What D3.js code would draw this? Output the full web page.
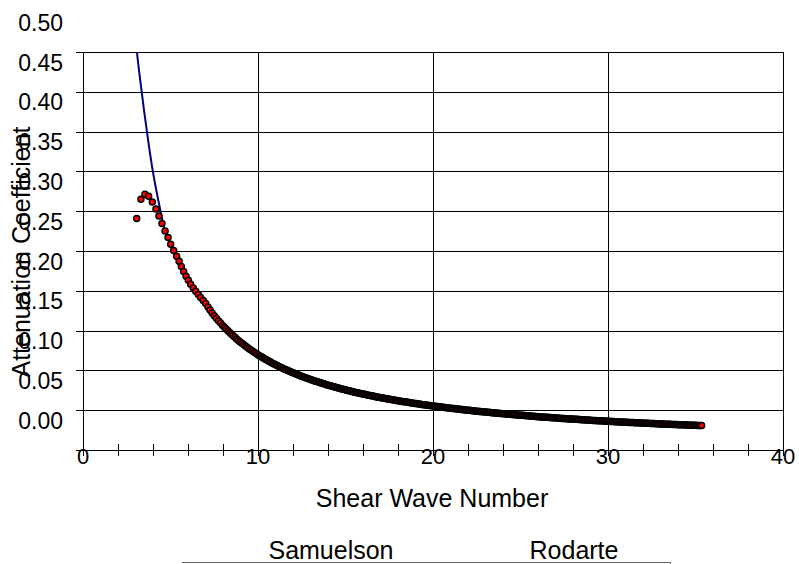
<!DOCTYPE html>
<html>
<head>
<meta charset="utf-8">
<script src="https://cdn.jsdelivr.net/npm/d3@7"></script>
<style>
  html, body { margin: 0; padding: 0; background: #fff; }
  text { font-family: "Liberation Sans", Arial, sans-serif; fill: #000; }
</style>
</head>
<body>
<div id="chart"></div>
<script>
// attenuation coefficient vs shear wave number, two models

const xTicks = [0, 10, 20, 30, 40]
const xMinor = [2, 4, 6, 8, 12, 14, 16, 18, 22, 24, 26, 28, 32, 34, 36, 38]
const yGrid = [0.45, 0.40, 0.35, 0.30, 0.25, 0.20, 0.15, 0.10, 0.05, 0.00]
const yLabels = ["0.50", "0.45", "0.40", "0.35", "0.30", "0.25", "0.20", "0.15", "0.10", "0.05", "0.00"]
const seriesNames = ["Samuelson", "Rodarte"]

// Samuelson (line)
const samuelsonX = [2.9, 3.07, 3.27, 3.5, 3.75, 3.98, 4.34, 4.69, 4.86, 5.01, 5.35, 5.75, 6.3, 7.01, 7.5, 8, 9, 10, 11, 12, 14, 16, 18, 20, 22, 24, 26, 28, 30, 32, 34, 35.35]
const samuelsonY = [0.50, 0.453, 0.4146, 0.3745, 0.3345, 0.3015, 0.2596, 0.2252, 0.2165, 0.2080, 0.1930, 0.1740, 0.1533, 0.1338, 0.1185, 0.1060, 0.0854, 0.0696, 0.0571, 0.0470, 0.0315, 0.0203, 0.0119, 0.0053, 0.0000, -0.0044, -0.0081, -0.0112, -0.0139, -0.0162, -0.0182, -0.0193]

// Rodarte (points) - very dense past x=10, they merge into a black band
const rodarteX = [
  3.07, 3.31, 3.54, 3.75, 3.96, 4.17, 4.34, 4.51, 4.69, 4.86, 5.01, 5.18, 5.35, 5.49, 5.62, 5.75, 5.89, 6.02, 6.15, 6.30, 6.44, 6.59, 6.72, 6.87, 7.01, 7.14,
  7.26, 7.38, 7.50, 7.62, 7.74, 7.86, 7.98,
  8.08, 8.18, 8.28, 8.38, 8.48, 8.58, 8.68, 8.78, 8.88, 8.98, 9.08, 9.18, 9.28, 9.38, 9.48, 9.58, 9.68, 9.78, 9.88, 9.98,
  10.08, 10.16, 10.24, 10.32, 10.40, 10.48, 10.56, 10.64, 10.72, 10.80, 10.88, 10.96, 11.04, 11.12, 11.20, 11.28, 11.36, 11.44, 11.52, 11.60, 11.68, 11.76, 11.84, 11.92, 12.00,
  12.08, 12.16, 12.24, 12.32, 12.40, 12.48, 12.56, 12.64, 12.72, 12.80, 12.88, 12.96, 13.04, 13.12, 13.20, 13.28, 13.36, 13.44, 13.52, 13.60, 13.68, 13.76, 13.84, 13.92, 14.00,
  14.08, 14.16, 14.24, 14.32, 14.40, 14.48, 14.56, 14.64, 14.72, 14.80, 14.88, 14.96, 15.04, 15.12, 15.20, 15.28, 15.36, 15.44, 15.52, 15.60, 15.68, 15.76, 15.84, 15.92, 16.00,
  16.08, 16.16, 16.24, 16.32, 16.40, 16.48, 16.56, 16.64, 16.72, 16.80, 16.88, 16.96, 17.04, 17.12, 17.20, 17.28, 17.36, 17.44, 17.52, 17.60, 17.68, 17.76, 17.84, 17.92, 18.00,
  18.08, 18.16, 18.24, 18.32, 18.40, 18.48, 18.56, 18.64, 18.72, 18.80, 18.88, 18.96, 19.04, 19.12, 19.20, 19.28, 19.36, 19.44, 19.52, 19.60, 19.68, 19.76, 19.84, 19.92, 20.00,
  20.08, 20.16, 20.24, 20.32, 20.40, 20.48, 20.56, 20.64, 20.72, 20.80, 20.88, 20.96, 21.04, 21.12, 21.20, 21.28, 21.36, 21.44, 21.52, 21.60, 21.68, 21.76, 21.84, 21.92, 22.00,
  22.08, 22.16, 22.24, 22.32, 22.40, 22.48, 22.56, 22.64, 22.72, 22.80, 22.88, 22.96, 23.04, 23.12, 23.20, 23.28, 23.36, 23.44, 23.52, 23.60, 23.68, 23.76, 23.84, 23.92, 24.00,
  24.08, 24.16, 24.24, 24.32, 24.40, 24.48, 24.56, 24.64, 24.72, 24.80, 24.88, 24.96, 25.04, 25.12, 25.20, 25.28, 25.36, 25.44, 25.52, 25.60, 25.68, 25.76, 25.84, 25.92, 26.00,
  26.08, 26.16, 26.24, 26.32, 26.40, 26.48, 26.56, 26.64, 26.72, 26.80, 26.88, 26.96, 27.04, 27.12, 27.20, 27.28, 27.36, 27.44, 27.52, 27.60, 27.68, 27.76, 27.84, 27.92, 28.00,
  28.08, 28.16, 28.24, 28.32, 28.40, 28.48, 28.56, 28.64, 28.72, 28.80, 28.88, 28.96, 29.04, 29.12, 29.20, 29.28, 29.36, 29.44, 29.52, 29.60, 29.68, 29.76, 29.84, 29.92, 30.00,
  30.08, 30.16, 30.24, 30.32, 30.40, 30.48, 30.56, 30.64, 30.72, 30.80, 30.88, 30.96, 31.04, 31.12, 31.20, 31.28, 31.36, 31.44, 31.52, 31.60, 31.68, 31.76, 31.84, 31.92, 32.00,
  32.08, 32.16, 32.24, 32.32, 32.40, 32.48, 32.56, 32.64, 32.72, 32.80, 32.88, 32.96, 33.04, 33.12, 33.20, 33.28, 33.36, 33.44, 33.52, 33.60, 33.68, 33.76, 33.84, 33.92, 34.00,
  34.08, 34.16, 34.24, 34.32, 34.40, 34.48, 34.56, 34.64, 34.72, 34.80, 34.88, 34.96, 35.04, 35.12, 35.20, 35.28,
  35.35]
const rodarteY = [
  0.2408, 0.2650, 0.2714, 0.2688, 0.2617, 0.2529, 0.2441, 0.2345, 0.2252, 0.2170, 0.2085, 0.2006, 0.1935, 0.1872, 0.1805, 0.1742, 0.1683, 0.1633, 0.1583, 0.1536, 0.1495, 0.1453, 0.1416, 0.1378, 0.1340, 0.1298,
  0.1260, 0.1222, 0.1185, 0.1155, 0.1125, 0.1095, 0.1065,
  0.1042, 0.1020, 0.0998, 0.0976, 0.0954, 0.0935, 0.0916, 0.0896, 0.0877, 0.0858, 0.0841, 0.0824, 0.0807, 0.0790, 0.0773, 0.0758, 0.0743, 0.0729, 0.0714, 0.0699,
  0.0685, 0.0675, 0.0664, 0.0654, 0.0643, 0.0633, 0.0623, 0.0613, 0.0604, 0.0594, 0.0585, 0.0576, 0.0567, 0.0558, 0.0550, 0.0541, 0.0533, 0.0524, 0.0516, 0.0508, 0.0501, 0.0493, 0.0485, 0.0478, 0.0470,
  0.0463, 0.0456, 0.0449, 0.0442, 0.0435, 0.0428, 0.0421, 0.0415, 0.0408, 0.0402, 0.0396, 0.0389, 0.0383, 0.0377, 0.0371, 0.0365, 0.0359, 0.0353, 0.0348, 0.0342, 0.0337, 0.0331, 0.0326, 0.0320, 0.0315,
  0.0310, 0.0305, 0.0300, 0.0295, 0.0290, 0.0285, 0.0281, 0.0276, 0.0271, 0.0267, 0.0262, 0.0257, 0.0253, 0.0249, 0.0244, 0.0240, 0.0236, 0.0231, 0.0227, 0.0223, 0.0219, 0.0215, 0.0211, 0.0207, 0.0203,
  0.0199, 0.0196, 0.0192, 0.0188, 0.0185, 0.0181, 0.0177, 0.0174, 0.0170, 0.0167, 0.0163, 0.0160, 0.0156, 0.0153, 0.0150, 0.0147, 0.0144, 0.0140, 0.0137, 0.0134, 0.0131, 0.0128, 0.0125, 0.0122, 0.0119,
  0.0116, 0.0113, 0.0110, 0.0107, 0.0105, 0.0102, 0.0099, 0.0096, 0.0094, 0.0091, 0.0088, 0.0085, 0.0083, 0.0080, 0.0078, 0.0075, 0.0072, 0.0070, 0.0067, 0.0065, 0.0062, 0.0060, 0.0058, 0.0055, 0.0053,
  0.0051, 0.0049, 0.0046, 0.0044, 0.0042, 0.0040, 0.0037, 0.0035, 0.0033, 0.0031, 0.0028, 0.0026, 0.0024, 0.0022, 0.0020, 0.0018, 0.0016, 0.0014, 0.0012, 0.0010, 0.0008, 0.0006, 0.0004, 0.0002, 0.0000,
  -0.0002, -0.0004, -0.0006, -0.0008, -0.0010, -0.0012, -0.0013, -0.0015, -0.0017, -0.0019, -0.0021, -0.0022, -0.0024, -0.0026, -0.0027, -0.0029, -0.0031, -0.0033, -0.0034, -0.0036, -0.0038, -0.0039, -0.0041, -0.0042, -0.0044,
  -0.0046, -0.0047, -0.0049, -0.0050, -0.0052, -0.0054, -0.0055, -0.0057, -0.0058, -0.0059, -0.0061, -0.0062, -0.0064, -0.0065, -0.0067, -0.0068, -0.0069, -0.0071, -0.0072, -0.0074, -0.0075, -0.0076, -0.0078, -0.0079, -0.0081,
  -0.0082, -0.0084, -0.0085, -0.0086, -0.0087, -0.0089, -0.0090, -0.0091, -0.0093, -0.0094, -0.0095, -0.0096, -0.0098, -0.0099, -0.0100, -0.0101, -0.0103, -0.0104, -0.0105, -0.0106, -0.0108, -0.0109, -0.0110, -0.0111, -0.0112,
  -0.0113, -0.0114, -0.0115, -0.0116, -0.0117, -0.0119, -0.0120, -0.0121, -0.0122, -0.0123, -0.0124, -0.0125, -0.0127, -0.0128, -0.0129, -0.0130, -0.0131, -0.0132, -0.0133, -0.0134, -0.0135, -0.0136, -0.0137, -0.0138, -0.0139,
  -0.0140, -0.0141, -0.0142, -0.0143, -0.0144, -0.0145, -0.0146, -0.0147, -0.0148, -0.0148, -0.0149, -0.0150, -0.0151, -0.0152, -0.0153, -0.0154, -0.0155, -0.0156, -0.0157, -0.0158, -0.0159, -0.0159, -0.0160, -0.0161, -0.0162,
  -0.0163, -0.0164, -0.0164, -0.0165, -0.0166, -0.0167, -0.0168, -0.0168, -0.0169, -0.0170, -0.0171, -0.0172, -0.0172, -0.0173, -0.0174, -0.0175, -0.0176, -0.0176, -0.0177, -0.0178, -0.0179, -0.0180, -0.0180, -0.0181, -0.0182,
  -0.0183, -0.0183, -0.0184, -0.0184, -0.0185, -0.0186, -0.0186, -0.0187, -0.0188, -0.0188, -0.0189, -0.0190, -0.0190, -0.0191, -0.0192, -0.0192,
  -0.0193]

const width = 799
const height = 564

const x = d3.scaleLinear().domain([0, 40]).range([83, 783])
const y = d3.scaleLinear().domain([-0.05, 0.45]).range([450, 52])

const svg = d3.select("#chart").append("svg")
  .attr("width", width)
  .attr("height", height)

svg.append("defs").append("clipPath").attr("id", "plot")
  .append("rect")
  .attr("x", x(0)).attr("y", y(0.45))
  .attr("width", x(40) - x(0)).attr("height", y(-0.05) - y(0.45))

const grid = svg.append("g").attr("shape-rendering", "crispEdges").attr("stroke", "#000")

// horizontal gridlines + left ticks
grid.selectAll(".hgrid").data(yGrid).join("line")
  .attr("x1", x(0) - 7).attr("x2", x(40))
  .attr("y1", (d) => Math.round(y(d)) + 0.5).attr("y2", (d) => Math.round(y(d)) + 0.5)

grid.append("line")
  .attr("x1", x(0) - 7).attr("x2", x(0))
  .attr("y1", Math.round(y(-0.05)) + 0.5).attr("y2", Math.round(y(-0.05)) + 0.5)

// vertical gridlines
grid.selectAll(".vgrid").data(xTicks).join("line")
  .attr("x1", (d) => Math.round(x(d)) + 0.5).attr("x2", (d) => Math.round(x(d)) + 0.5)
  .attr("y1", y(0.45)).attr("y2", y(-0.05))

// x axis with crossing ticks
grid.append("line")
  .attr("x1", x(0)).attr("x2", x(40))
  .attr("y1", Math.round(y(-0.05)) + 0.5).attr("y2", Math.round(y(-0.05)) + 0.5)

grid.selectAll(".xtick").data(xTicks.concat(xMinor)).join("line")
  .attr("x1", (d) => Math.round(x(d)) + 0.5).attr("x2", (d) => Math.round(x(d)) + 0.5)
  .attr("y1", y(-0.05) - 6).attr("y2", y(-0.05) + 6)

// y labels sit a little below their gridline, as in the original
svg.selectAll(".ylab").data(yLabels).join("text")
  .attr("x", 63)
  .attr("y", (d) => y(+d) + 18.5)
  .attr("text-anchor", "end")
  .attr("font-size", 23)
  .text((d) => d)

svg.selectAll(".xlab").data(xTicks).join("text")
  .attr("x", (d) => x(d))
  .attr("y", 463.5)
  .attr("text-anchor", "middle")
  .attr("font-size", 22)
  .text((d) => d)

svg.append("text")
  .attr("x", 432).attr("y", 507)
  .attr("text-anchor", "middle")
  .attr("font-size", 25)
  .text("Shear Wave Number")

svg.append("text")
  .attr("transform", "translate(30,252) rotate(-90)")
  .attr("text-anchor", "middle")
  .attr("font-size", 25)
  .text("Attenuation Coefficient")

// Samuelson line
const samuelson = samuelsonX.map((d, i) => [d, samuelsonY[i]])
svg.append("path")
  .datum(samuelson)
  .attr("clip-path", "url(#plot)")
  .attr("fill", "none")
  .attr("stroke", "#000080")
  .attr("stroke-width", 2)
  .attr("d", d3.line().x((d) => x(d[0])).y((d) => y(d[1])).curve(d3.curveMonotoneX))

// Rodarte points
const rodarte = rodarteX.map((d, i) => [d, rodarteY[i]]).filter((d) => d[1] !== undefined)
svg.append("g").selectAll("circle").data(rodarte).join("circle")
  .attr("cx", (d) => x(d[0]))
  .attr("cy", (d) => y(d[1]))
  .attr("r", 3)
  .attr("fill", "#ff0000")
  .attr("stroke", "#000")
  .attr("stroke-width", 1.5)

// legend (only its top edge is in frame)
const legend = svg.append("g")
legend.selectAll("text").data(seriesNames).join("text")
  .attr("x", (d, i) => [331, 574][i])
  .attr("y", 559)
  .attr("text-anchor", "middle")
  .attr("font-size", 25)
  .text((d) => d)
legend.append("line")
  .attr("x1", 182).attr("x2", 670).attr("y1", 562.5).attr("y2", 562.5)
  .attr("stroke", "#666")
legend.append("line")
  .attr("x1", 670.5).attr("x2", 670.5).attr("y1", 562).attr("y2", 564)
  .attr("stroke", "#666")
</script>
</body>
</html>
